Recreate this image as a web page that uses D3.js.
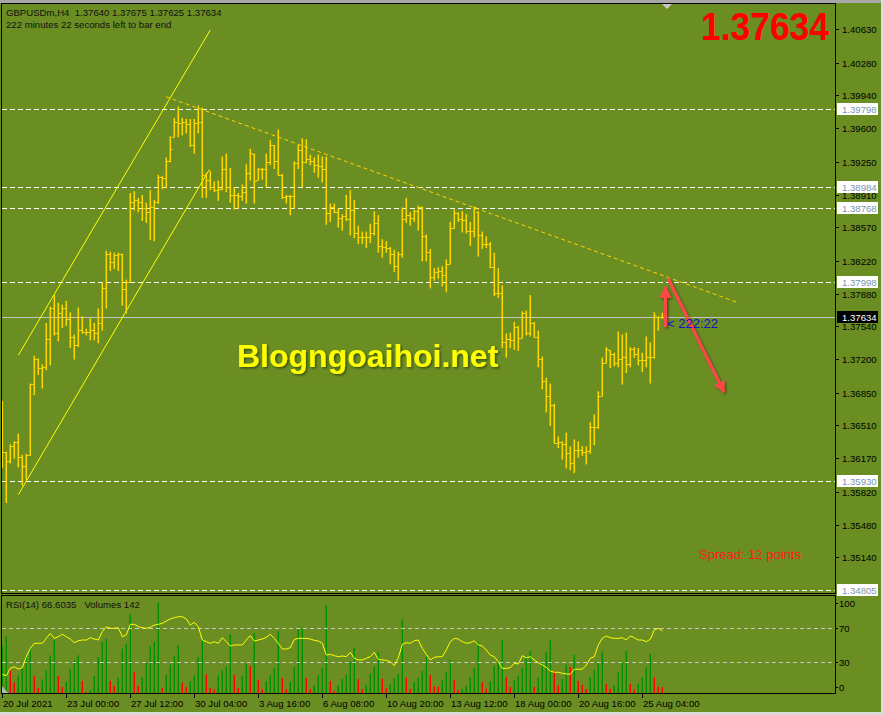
<!DOCTYPE html>
<html><head><meta charset="utf-8">
<script src="https://cdn.jsdelivr.net/npm/d3@7"></script>
<style>
html,body{margin:0;padding:0;background:#d8d8d8;}
svg{display:block;}
text{font-family:"Liberation Sans",Arial,sans-serif;}
</style></head><body>
<svg id="c" width="883" height="715"></svg>
<script>
// ---------------- DATA ----------------
const opens=[1.3646,1.3623,1.3614,1.3630,1.3634,1.3618,1.3609,1.3620,1.3694,1.3720,
1.3711,1.3712,1.3741,1.3773,1.3747,1.3768,1.3773,1.3762,1.3743,1.3735,
1.3750,1.3748,1.3748,1.3750,1.3747,1.3757,1.3794,1.3829,1.3821,1.3828,
1.3829,1.3793,1.3800,1.3883,1.3885,1.3883,1.3877,1.3873,1.3878,1.3883,
1.3909,1.3908,1.3926,1.3951,1.3966,1.3965,1.3966,1.3964,1.3942,1.3965,
1.3966,1.3911,1.3906,1.3899,1.3896,1.3897,1.3917,1.3899,1.3890,1.3891,
1.3889,1.3894,1.3913,1.3933,1.3906,1.3917,1.3917,1.3925,1.3942,1.3926,
1.3911,1.3888,1.3889,1.3889,1.3924,1.3937,1.3925,1.3928,1.3926,1.3922,
1.3921,1.3917,1.3872,1.3878,1.3873,1.3867,1.3869,1.3866,1.3875,1.3851,
1.3847,1.3847,1.3847,1.3851,1.3861,1.3838,1.3836,1.3835,1.3829,1.3817,
1.3829,1.3866,1.3870,1.3867,1.3874,1.3878,1.3848,1.3831,1.3805,1.3810,
1.3812,1.3807,1.3819,1.3856,1.3872,1.3866,1.3864,1.3853,1.3853,1.3873,
1.3849,1.3840,1.3840,1.3816,1.3789,1.3789,1.3738,1.3741,1.3740,1.3753,
1.3742,1.3768,1.3747,1.3757,1.3743,1.3720,1.3697,1.3682,1.3672,1.3633,
1.3634,1.3632,1.3622,1.3612,1.3626,1.3626,1.3623,1.3624,1.3649,1.3649,
1.3682,1.3716,1.3729,1.3725,1.3716,1.3720,1.3722,1.3715,1.3730,1.3725,
1.3719,1.3719,1.3722,1.3722,1.3764,1.37640];
const highs=[1.3676,1.3623,1.3631,1.3634,1.3642,1.3620,1.3621,1.3694,1.3723,1.3720,
1.3714,1.3757,1.3774,1.3786,1.3778,1.3776,1.3780,1.3768,1.3745,1.3773,
1.3764,1.3751,1.3762,1.3757,1.3772,1.3799,1.3832,1.3831,1.3830,1.3830,
1.3829,1.3802,1.3892,1.3894,1.3887,1.3890,1.3882,1.3895,1.3885,1.3911,
1.3910,1.3929,1.3951,1.3970,1.3982,1.3970,1.3969,1.3969,1.3969,1.3983,
1.3981,1.3913,1.3915,1.3904,1.3905,1.3930,1.3933,1.3918,1.3898,1.3892,
1.3901,1.3922,1.3938,1.3933,1.3918,1.3918,1.3933,1.3947,1.3942,1.3958,
1.3912,1.3890,1.3890,1.3925,1.3942,1.3949,1.3948,1.3932,1.3929,1.3932,
1.3930,1.3930,1.3881,1.3881,1.3876,1.3870,1.3890,1.3895,1.3885,1.3858,
1.3852,1.3852,1.3860,1.3873,1.3869,1.3844,1.3842,1.3836,1.3833,1.3831,
1.3877,1.3887,1.3872,1.3875,1.3879,1.3878,1.3849,1.3834,1.3814,1.3815,
1.3816,1.3823,1.3862,1.3875,1.3872,1.3873,1.3870,1.3862,1.3878,1.3873,
1.3852,1.3847,1.3841,1.3830,1.3814,1.3796,1.3746,1.3747,1.3758,1.3754,
1.3769,1.3770,1.3786,1.3758,1.3749,1.3722,1.3700,1.3694,1.3673,1.3639,
1.3634,1.3643,1.3629,1.3636,1.3634,1.3629,1.3629,1.3654,1.3662,1.3686,
1.3721,1.3732,1.3729,1.3726,1.3748,1.3745,1.3747,1.3732,1.3732,1.3731,
1.3726,1.3743,1.3737,1.3768,1.3764,1.37675];
const lows=[1.3607,1.3571,1.3612,1.3617,1.3608,1.3589,1.3595,1.3620,1.3683,1.3704,
1.3690,1.3709,1.3714,1.3745,1.3739,1.3753,1.3755,1.3732,1.3720,1.3733,
1.3747,1.3745,1.3740,1.3740,1.3737,1.3750,1.3773,1.3812,1.3814,1.3812,
1.3776,1.3768,1.3800,1.3875,1.3873,1.3864,1.3862,1.3844,1.3843,1.3882,
1.3897,1.3898,1.3925,1.3951,1.3951,1.3953,1.3955,1.3941,1.3934,1.3955,
1.3888,1.3888,1.3896,1.3894,1.3885,1.3896,1.3894,1.3883,1.3876,1.3877,
1.3885,1.3882,1.3906,1.3882,1.3906,1.3907,1.3899,1.3922,1.3918,1.3911,
1.3887,1.3882,1.3870,1.3877,1.3918,1.3899,1.3924,1.3922,1.3914,1.3909,
1.3904,1.3860,1.3863,1.3872,1.3857,1.3854,1.3864,1.3849,1.3846,1.3840,
1.3840,1.3836,1.3841,1.3849,1.3831,1.3826,1.3831,1.3819,1.3811,1.3802,
1.3826,1.3862,1.3859,1.3863,1.3854,1.3822,1.3822,1.3794,1.3802,1.3804,
1.3796,1.3790,1.3819,1.3856,1.3863,1.3852,1.3851,1.3838,1.3847,1.3827,
1.3835,1.3836,1.3815,1.3786,1.3784,1.3732,1.3722,1.3732,1.3730,1.3729,
1.3742,1.3745,1.3744,1.3743,1.3712,1.3689,1.3665,1.3651,1.3633,1.3628,
1.3616,1.3607,1.3605,1.3602,1.3618,1.3620,1.3611,1.3622,1.3631,1.3648,
1.3682,1.3716,1.3711,1.3713,1.3712,1.3694,1.3706,1.3712,1.3722,1.3714,
1.3707,1.3712,1.3695,1.3721,1.3750,1.37625];
const closes=[1.3623,1.3614,1.3630,1.3634,1.3618,1.3609,1.3620,1.3694,1.3720,1.3711,
1.3712,1.3741,1.3773,1.3747,1.3768,1.3773,1.3762,1.3743,1.3735,1.3750,
1.3748,1.3748,1.3750,1.3747,1.3757,1.3794,1.3829,1.3821,1.3828,1.3829,
1.3793,1.3800,1.3883,1.3885,1.3883,1.3877,1.3873,1.3878,1.3883,1.3909,
1.3908,1.3926,1.3938,1.3966,1.3965,1.3966,1.3964,1.3942,1.3965,1.3966,
1.3911,1.3906,1.3899,1.3896,1.3897,1.3917,1.3899,1.3890,1.3891,1.3889,
1.3894,1.3913,1.3934,1.3905,1.3917,1.3917,1.3925,1.3942,1.3926,1.3911,
1.3888,1.3889,1.3889,1.3924,1.3937,1.3925,1.3928,1.3926,1.3922,1.3921,
1.3917,1.3872,1.3878,1.3873,1.3867,1.3869,1.3866,1.3875,1.3851,1.3847,
1.3847,1.3847,1.3851,1.3861,1.3838,1.3836,1.3835,1.3829,1.3817,1.3829,
1.3866,1.3870,1.3867,1.3874,1.3878,1.3848,1.3831,1.3805,1.3810,1.3812,
1.3807,1.3819,1.3856,1.3872,1.3866,1.3864,1.3853,1.3853,1.3878,1.3849,
1.3840,1.3840,1.3816,1.3789,1.3789,1.3738,1.3741,1.3740,1.3753,1.3742,
1.3768,1.3747,1.3757,1.3743,1.3720,1.3697,1.3682,1.3672,1.3633,1.3634,
1.3632,1.3622,1.3612,1.3626,1.3626,1.3623,1.3624,1.3649,1.3649,1.3682,
1.3716,1.3730,1.3725,1.3716,1.3720,1.3722,1.3715,1.3730,1.3725,1.3719,
1.3719,1.3722,1.3722,1.3766,1.3764,1.37634];
const volumes=[1168,1418,568,258,443,650,900,1108,418,125,
343,568,943,1318,425,150,275,608,818,943,
300,25,68,425,900,1275,1358,300,175,375,
1108,1233,1968,525,175,400,758,1168,1275,2260,
125,468,708,925,1193,250,150,300,443,900,
1343,468,125,83,443,568,668,1468,443,125,
418,718,675,1500,333,93,300,443,633,1543,
375,93,275,650,1593,1608,375,93,193,443,
633,2193,300,50,193,358,468,775,1133,343,
93,208,483,668,1025,358,125,218,375,468,
1843,383,93,275,383,550,900,443,168,150,
318,518,833,318,68,100,183,400,625,1268,
268,108,293,683,768,1333,400,150,318,433,
625,918,1058,150,400,750,1018,1318,543,183,
358,708,650,958,308,208,100,400,568,750,
1043,233,108,183,525,768,1058,233,83,233,
400,643,983,393,160,142];
const rsi=[14.8,13.1,21.9,23.9,21.1,22.7,35.8,45.8,51.8,51.8,51.8,57.7,63.7,57.7,59.7,62.5,59.7,56.9,52.5,54.9,
55.7,55.7,58.5,56.9,55.7,65.6,71.6,69.7,69.7,70.4,59.7,61.7,74.4,74.4,71.6,70.4,69.7,70.8,73.6,74.4,
75.6,78.4,80.8,82.3,83.5,83.5,80.8,73.6,76.8,71.6,55.7,53.7,51.8,53.7,51.8,
58.5,53.7,48.6,49.8,49.8,49.8,55.7,60.9,54.5,55.7,56.9,58.9,62.5,57.7,51.8,45,45,46.5,56.5,57.7,
57.7,57.7,56.9,55.3,54.5,51.8,37.8,38.6,37,35.8,36.6,35.8,41,33.9,31.9,31.9,33.9,35.8,41,32.7,
31.9,31.5,29.8,25.1,34.6,50.6,52.5,51.8,54.9,55.7,45.8,38.6,31.9,35.1,35.8,
35.8,43.8,53.7,57.7,56.9,53.7,51.8,52.5,54.9,49.8,48.6,43.8,37.8,35.8,29.8,21.9,21.9,22.7,27.9,27.1,
37,34.6,35.8,31.9,28.6,25.9,23.1,18.7,17.2,17.2,16,15.2,14.8,20.8,20.8,20.8,25.9,33.9,35.8,49.8,
57.7,60.5,58.5,57.7,57.7,58.5,55.7,60.5,58.5,55.7,55.7,53.7,56.6,67.7,69.7,66.6];
const priceTicks=[1.40630,1.40280,1.39940,1.39600,1.39250,1.38910,1.38570,1.38220,1.37880,1.37540,1.37200,1.36850,1.36510,1.36170,1.35820,1.35480,1.35140];
const levelLines=[1.39798,1.38984,1.38768,1.37998,1.35930,1.34805];
const currentPrice=1.37634;
const rsiTicks=[100,70,30,0];
const rsiLevels=[70,30];
const timeTickIdx=[0,16,32,48,64,80,96,112,128,144,160];
const timeLabels=["20 Jul 2021","23 Jul 00:00","27 Jul 12:00","30 Jul 04:00","3 Aug 16:00","6 Aug 08:00","10 Aug 20:00","13 Aug 12:00","18 Aug 00:00","20 Aug 16:00","25 Aug 04:00"];
// trend objects: [barIndex, price]
const channelUpper=[[4,1.3724],[52,1.4062]];
const channelLower=[[4,1.3579],[51.75,1.3917]];
const downTrend=[[40.9,1.39927],[183.7,1.37790]];
const arrowUp=[[165.8,1.37533],[165.8,1.37949]];
const arrowDown=[[166.4,1.38042],[180.4,1.36858]];

// ---------------- SCALES ----------------
const svg=d3.select("#c");
const BG="#6b8e23";
const x=d3.scaleLinear().domain([0,208]).range([2.3,834.3]);
const y=d3.scaleLinear().domain([1.34769,1.40900]).range([593,3]);
const ry=d3.scaleLinear().domain([0,100]).range([686.7,602.9]);
const vy=d3.scaleLinear().domain([0,2275]).range([693,602]);
const px=v=>Math.round(v)+0.5;

// background
svg.append("rect").attr("x",0).attr("y",0).attr("width",883).attr("height",715).attr("fill","#dcdcdc");
svg.append("rect").attr("x",0).attr("y",0).attr("width",881).attr("height",3).attr("fill","#a8a8a8");
svg.append("rect").attr("x",0).attr("y",3).attr("width",881).attr("height",709).attr("fill",BG);

const defs=svg.append("defs");
const f=defs.append("filter").attr("id","sh").attr("filterUnits","userSpaceOnUse")
  .attr("x",0).attr("y",0).attr("width",883).attr("height",715);
f.append("feDropShadow").attr("dx",1.5).attr("dy",1.5).attr("stdDeviation",1).attr("flood-color","#000").attr("flood-opacity",0.45);
const arrowMarker=defs.append("marker").attr("id","ah").attr("viewBox","0 0 10 10").attr("refX",9).attr("refY",5)
  .attr("markerWidth",4).attr("markerHeight",4).attr("orient","auto-start-reverse").attr("markerUnits","strokeWidth");
arrowMarker.append("path").attr("d","M0,0 L10,5 L0,10 z").attr("fill","#ff4646");

const main=svg.append("g");
main.append("clipPath").attr("id","mc").append("rect").attr("x",2).attr("y",4).attr("width",833).attr("height",589);
const mg=main.append("g").attr("clip-path","url(#mc)");

// level lines
mg.selectAll("line.lv").data(levelLines).join("line").attr("class","lv")
 .attr("x1",2).attr("x2",835).attr("y1",d=>px(y(d))).attr("y2",d=>px(y(d)))
 .attr("stroke","#ffffff").attr("stroke-width",1).attr("stroke-dasharray","5,3");
// current price line
mg.append("line").attr("x1",2).attr("x2",835).attr("y1",px(y(currentPrice))).attr("y2",px(y(currentPrice)))
 .attr("stroke","#c4c4c4").attr("stroke-width",1);

// channel lines
[channelUpper,channelLower].forEach(l=>{
  mg.append("line").attr("x1",x(l[0][0])).attr("y1",y(l[0][1])).attr("x2",x(l[1][0])).attr("y2",y(l[1][1]))
   .attr("stroke","#ffff00").attr("stroke-width",1);
});
mg.append("line").attr("x1",x(downTrend[0][0])).attr("y1",y(downTrend[0][1])).attr("x2",x(downTrend[1][0])).attr("y2",y(downTrend[1][1]))
 .attr("stroke","#ffd200").attr("stroke-width",1).attr("stroke-dasharray","4,3");

// OHLC bars
const bars=mg.append("g").attr("stroke","#ffd700").attr("stroke-width",1.5);
opens.forEach((o,i)=>{
  const cx=x(i);
  bars.append("line").attr("x1",cx).attr("x2",cx).attr("y1",y(highs[i])-0.5).attr("y2",y(lows[i])+0.5);
  bars.append("line").attr("x1",cx-2).attr("x2",cx).attr("y1",px(y(o))).attr("y2",px(y(o))).attr("stroke-width",1);
  bars.append("line").attr("x1",cx).attr("x2",cx+2.2).attr("y1",px(y(closes[i]))).attr("y2",px(y(closes[i]))).attr("stroke-width",1);
});

// watermark
svg.append("text").attr("x",237).attr("y",367).attr("font-size",32).attr("font-weight","bold")
 .attr("fill","#ffff00").attr("filter","url(#sh)").text("Blogngoaihoi.net");

// arrows
[arrowUp,arrowDown].forEach(a=>{
  svg.append("path").attr("d",d3.line()(a.map(p=>[x(p[0]),y(p[1])])))
   .attr("fill","none").attr("stroke","#ff4646").attr("stroke-width",3).attr("marker-end","url(#ah)").attr("filter","url(#sh)");
});

// countdown + spread
svg.append("text").attr("x",667).attr("y",328).attr("font-size",13).attr("fill","#1010d0").text("< 222:22");
svg.append("text").attr("x",699).attr("y",559).attr("font-size",13).attr("fill","#ff1a1a").text("Spread: 12 points");

// big price
svg.append("text").attr("x",829).attr("y",40).attr("text-anchor","end").attr("font-size",38).attr("font-weight","bold")
 .attr("fill","#ff0000").attr("textLength",128).attr("lengthAdjust","spacingAndGlyphs").text("1.37634");

// header
svg.append("text").attr("x",6).attr("y",15.5).attr("font-size",9.6).attr("fill","#111").attr("xml:space","preserve")
 .text("GBPUSDm,H4  1.37640 1.37675 1.37625 1.37634");
svg.append("text").attr("x",6).attr("y",28).attr("font-size",9.6).attr("fill","#111").text("222 minutes 22 seconds left to bar end");

// shift marker
svg.append("path").attr("d","M662,4 L672,4 L667,9 Z").attr("fill","#c8c8c8");

// price axis
const ax=svg.append("g");
priceTicks.forEach(t=>{
  const yy=px(y(t));
  ax.append("line").attr("x1",835).attr("x2",839).attr("y1",yy).attr("y2",yy).attr("stroke","#000");
  ax.append("text").attr("x",842).attr("y",yy+3.5).attr("font-size",9.6).attr("fill","#000").text(t.toFixed(5));
});
levelLines.forEach(t=>{
  const yy=y(t);
  ax.append("rect").attr("x",837).attr("y",Math.round(yy)-6).attr("width",41).attr("height",12).attr("fill","#fff");
  ax.append("text").attr("x",842).attr("y",Math.round(yy)+3.5).attr("font-size",9.6).attr("fill","#7896b0").text(t.toFixed(5));
});
{
  const yy=y(currentPrice);
  ax.append("rect").attr("x",837).attr("y",Math.round(yy)-6).attr("width",41).attr("height",12).attr("fill","#000");
  ax.append("text").attr("x",842).attr("y",Math.round(yy)+3.5).attr("font-size",9.6).attr("fill","#fff").text(currentPrice.toFixed(5));
}

// ---------------- RSI / Volumes panel ----------------
const sub=svg.append("g");
sub.append("clipPath").attr("id","sc").append("rect").attr("x",2).attr("y",596).attr("width",833).attr("height",97);
const sg=sub.append("g").attr("clip-path","url(#sc)");
sg.selectAll("line.vol").data(volumes).join("line").attr("class","vol")
 .attr("x1",(d,i)=>x(i)).attr("x2",(d,i)=>x(i)).attr("y1",vy(0)).attr("y2",d=>vy(d))
 .attr("stroke",(d,i)=>(i===0||d>=volumes[i-1])?"#009000":"#ff0000").attr("stroke-width",1.4);
sg.selectAll("line.rl").data(rsiLevels).join("line").attr("class","rl")
 .attr("x1",2).attr("x2",835).attr("y1",d=>px(ry(d))).attr("y2",d=>px(ry(d)))
 .attr("stroke","#c8c8c8").attr("stroke-dasharray","4,3");
sg.append("path").datum(rsi).attr("fill","none").attr("stroke","#ffff00").attr("stroke-width",1)
 .attr("d",d3.line().x((d,i)=>x(i)).y(d=>ry(d)));
sub.append("path").attr("d","M2,686 L2,693 L8,693 Z").attr("fill","#b8b8b8");
sub.append("text").attr("x",6).attr("y",608).attr("font-size",9.6).attr("fill","#111").attr("xml:space","preserve")
 .text("RSI(14) 66.6035   Volumes 142");
rsiTicks.forEach(t=>{
  const yy=px(ry(t));
  sub.append("line").attr("x1",835).attr("x2",838).attr("y1",yy).attr("y2",yy).attr("stroke","#000");
  sub.append("text").attr("x",839).attr("y",yy+3.5).attr("font-size",9.6).attr("fill","#000").text(t);
});

// frames
svg.append("rect").attr("x",1.5).attr("y",3.5).attr("width",834).attr("height",590).attr("fill","none").attr("stroke","#000");
svg.append("rect").attr("x",1.5).attr("y",595.5).attr("width",834).attr("height",98).attr("fill","none").attr("stroke","#000");

// time axis
timeTickIdx.forEach((ti,k)=>{
  const xx=px(x(ti));
  svg.append("line").attr("x1",xx).attr("x2",xx).attr("y1",693).attr("y2",698).attr("stroke","#000");
  svg.append("text").attr("x",xx+0.5).attr("y",707).attr("font-size",9.6).attr("fill","#000").text(timeLabels[k]);
});
</script>
</body></html>
